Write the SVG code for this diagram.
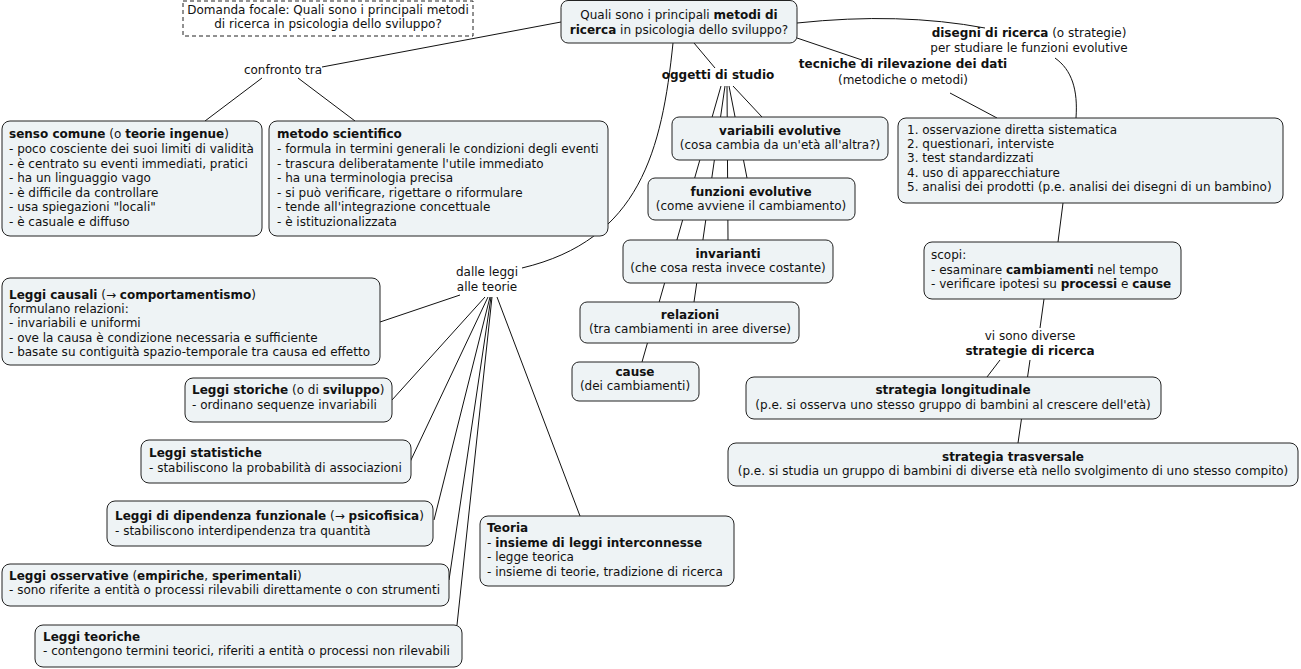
<svg xmlns="http://www.w3.org/2000/svg" width="1301" height="669" viewBox="0 0 1301 669">
<style>
text{font-family:"DejaVu Sans","Verdana",sans-serif;font-size:12px;fill:#111}
.b{font-weight:bold}
.c{text-anchor:middle}
.box{fill:#eef3f5;stroke:#222;stroke-width:1}
.con{fill:none;stroke:#111;stroke-width:1}
</style>
<rect width="1301" height="669" fill="#fff"/>
<g id="connectors" class="con">
<path d="M561,22 L322,67"/>
<path d="M262,78 L205,121"/>
<path d="M298,78 L355,121"/>
<path d="M694,43 L715,68"/>
<path d="M673,43 C662,150 640,240 522,268"/>
<path d="M721,86 L642,362"/>
<path d="M725,86 L694,302"/>
<path d="M727,86 L728,240"/>
<path d="M729,86 L747,178"/>
<path d="M733,86 L762,117"/>
<path d="M797,23 Q900,12 985,28"/>
<path d="M1055,58 C1072,70 1078,90 1076,118"/>
<path d="M797,38 L862,60"/>
<path d="M950,93 L997,118"/>
<path d="M1063,203 L1058,242"/>
<path d="M1044,299 L1040,328"/>
<path d="M1000,360 L987,377"/>
<path d="M1030,360 L1018,443"/>
<path d="M460,295 L380,322"/>
<path d="M485,297 L392,400"/>
<path d="M488,297 L410,462"/>
<path d="M490,297 L434,520"/>
<path d="M491,297 L449,580"/>
<path d="M492,297 L457,625"/>
<path d="M497,297 L580,516"/>
</g>
<g id="focal">
<rect x="183" y="1" width="290" height="35" fill="#fff" stroke="#222" stroke-dasharray="4,3"/>
<text class="c" x="328" y="14">Domanda focale: Quali sono i principali metodi</text>
<text class="c" x="328" y="28">di ricerca in psicologia dello sviluppo?</text>
</g>
<g id="main">
<rect class="box" x="561" y="0.5" width="236" height="42.5" rx="7"/>
<text class="c" x="679" y="19">Quali sono i principali <tspan class="b">metodi di</tspan></text>
<text class="c" x="679" y="34"><tspan class="b">ricerca</tspan> in psicologia dello sviluppo?</text>
</g>
<g id="confronto"><text class="c" x="283" y="74">confronto tra</text></g>
<g id="senso">
<rect class="box" x="2" y="121" width="260" height="115" rx="8"/>
<text x="9" y="138"><tspan class="b">senso comune</tspan> (o <tspan class="b">teorie ingenue</tspan>)</text>
<text x="9" y="153">- poco cosciente dei suoi limiti di validità</text>
<text x="9" y="168">- è centrato su eventi immediati, pratici</text>
<text x="9" y="182">- ha un linguaggio vago</text>
<text x="9" y="197">- è difficile da controllare</text>
<text x="9" y="211">- usa spiegazioni "locali"</text>
<text x="9" y="226">- è casuale e diffuso</text>
</g>
<g id="metodo">
<rect class="box" x="269" y="121" width="339" height="115" rx="8"/>
<text class="b" x="277" y="138">metodo scientifico</text>
<text x="277" y="153">- formula in termini generali le condizioni degli eventi</text>
<text x="277" y="168">- trascura deliberatamente l'utile immediato</text>
<text x="277" y="182">- ha una terminologia precisa</text>
<text x="277" y="197">- si può verificare, rigettare o riformulare</text>
<text x="277" y="211">- tende all'integrazione concettuale</text>
<text x="277" y="226">- è istituzionalizzata</text>
</g>
<g id="oggetti"><text class="c b" x="718" y="79">oggetti di studio</text></g>
<g id="variabili">
<rect class="box" x="672" y="117" width="216" height="43" rx="7"/>
<text class="c b" x="780" y="135">variabili evolutive</text>
<text class="c" x="780" y="149">(cosa cambia da un'età all'altra?)</text>
</g>
<g id="funzioni">
<rect class="box" x="648" y="178" width="207" height="42" rx="7"/>
<text class="c b" x="751" y="196">funzioni evolutive</text>
<text class="c" x="751" y="210">(come avviene il cambiamento)</text>
</g>
<g id="invarianti">
<rect class="box" x="623" y="240" width="210" height="43" rx="7"/>
<text class="c b" x="728" y="258">invarianti</text>
<text class="c" x="728" y="272">(che cosa resta invece costante)</text>
</g>
<g id="relazioni">
<rect class="box" x="580" y="302" width="219" height="41" rx="7"/>
<text class="c b" x="690" y="319">relazioni</text>
<text class="c" x="690" y="333">(tra cambiamenti in aree diverse)</text>
</g>
<g id="cause">
<rect class="box" x="572" y="362" width="127" height="39" rx="7"/>
<text class="c b" x="635" y="376">cause</text>
<text class="c" x="635" y="390">(dei cambiamenti)</text>
</g>
<g id="disegni">
<text class="c" x="1029" y="37"><tspan class="b">disegni di ricerca</tspan> (o strategie)</text>
<text class="c" x="1029" y="52">per studiare le funzioni evolutive</text>
</g>
<g id="tecniche">
<text class="c b" x="903" y="68">tecniche di rilevazione dei dati</text>
<text class="c" x="903" y="84">(metodiche o metodi)</text>
</g>
<g id="tecniche-lista">
<rect class="box" x="898" y="118" width="385" height="85" rx="8"/>
<text x="907" y="134">1. osservazione diretta sistematica</text>
<text x="907" y="148">2. questionari, interviste</text>
<text x="907" y="162">3. test standardizzati</text>
<text x="907" y="177">4. uso di apparecchiature</text>
<text x="907" y="191">5. analisi dei prodotti (p.e. analisi dei disegni di un bambino)</text>
</g>
<g id="scopi">
<rect class="box" x="924" y="242" width="257" height="57" rx="8"/>
<text x="931" y="259">scopi:</text>
<text x="931" y="274">- esaminare <tspan class="b">cambiamenti</tspan> nel tempo</text>
<text x="931" y="288">- verificare ipotesi su <tspan class="b">processi</tspan> e <tspan class="b">cause</tspan></text>
</g>
<g id="strategie">
<text class="c" x="1030" y="340">vi sono diverse</text>
<text class="c b" x="1030" y="355">strategie di ricerca</text>
</g>
<g id="longitudinale">
<rect class="box" x="746" y="377" width="415" height="42" rx="8"/>
<text class="c b" x="953" y="394">strategia longitudinale</text>
<text class="c" x="953" y="409">(p.e. si osserva uno stesso gruppo di bambini al crescere dell'età)</text>
</g>
<g id="trasversale">
<rect class="box" x="728" y="443" width="570" height="43" rx="8"/>
<text class="c b" x="1013" y="461">strategia trasversale</text>
<text class="c" x="1013" y="475">(p.e. si studia un gruppo di bambini di diverse età nello svolgimento di uno stesso compito)</text>
</g>
<g id="dalle-leggi">
<text class="c" x="487" y="276">dalle leggi</text>
<text class="c" x="487" y="291">alle teorie</text>
</g>
<g id="causali">
<rect class="box" x="2" y="278" width="378" height="87" rx="8"/>
<text x="9" y="299"><tspan class="b">Leggi causali</tspan> (→ <tspan class="b">comportamentismo</tspan>)</text>
<text x="9" y="313">formulano relazioni:</text>
<text x="9" y="327">- invariabili e uniformi</text>
<text x="9" y="342">- ove la causa è condizione necessaria e sufficiente</text>
<text x="9" y="356">- basate su contiguità spazio-temporale tra causa ed effetto</text>
</g>
<g id="storiche">
<rect class="box" x="185" y="378" width="207" height="44" rx="8"/>
<text x="192" y="394"><tspan class="b">Leggi storiche</tspan> (o di <tspan class="b">sviluppo</tspan>)</text>
<text x="192" y="409">- ordinano sequenze invariabili</text>
</g>
<g id="statistiche">
<rect class="box" x="141" y="440" width="270" height="43" rx="8"/>
<text class="b" x="149" y="457">Leggi statistiche</text>
<text x="149" y="472">- stabiliscono la probabilità di associazioni</text>
</g>
<g id="dipendenza">
<rect class="box" x="107" y="501" width="326" height="45" rx="8"/>
<text x="115" y="520"><tspan class="b">Leggi di dipendenza funzionale</tspan> (→ <tspan class="b">psicofisica</tspan>)</text>
<text x="115" y="535">- stabiliscono interdipendenza tra quantità</text>
</g>
<g id="osservative">
<rect class="box" x="2" y="564" width="447" height="42" rx="8"/>
<text x="9" y="580"><tspan class="b">Leggi osservative</tspan> (<tspan class="b">empiriche</tspan>, <tspan class="b">sperimentali</tspan>)</text>
<text x="9" y="594">- sono riferite a entità o processi rilevabili direttamente o con strumenti</text>
</g>
<g id="teoriche">
<rect class="box" x="35" y="625" width="427" height="42" rx="8"/>
<text class="b" x="43" y="641">Leggi teoriche</text>
<text x="43" y="655">- contengono termini teorici, riferiti a entità o processi non rilevabili</text>
</g>
<g id="teoria">
<rect class="box" x="480" y="516" width="254" height="70" rx="8"/>
<text class="b" x="487" y="532">Teoria</text>
<text x="487" y="547">- <tspan class="b">insieme di leggi interconnesse</tspan></text>
<text x="487" y="561">- legge teorica</text>
<text x="487" y="576">- insieme di teorie, tradizione di ricerca</text>
</g>
</svg>
